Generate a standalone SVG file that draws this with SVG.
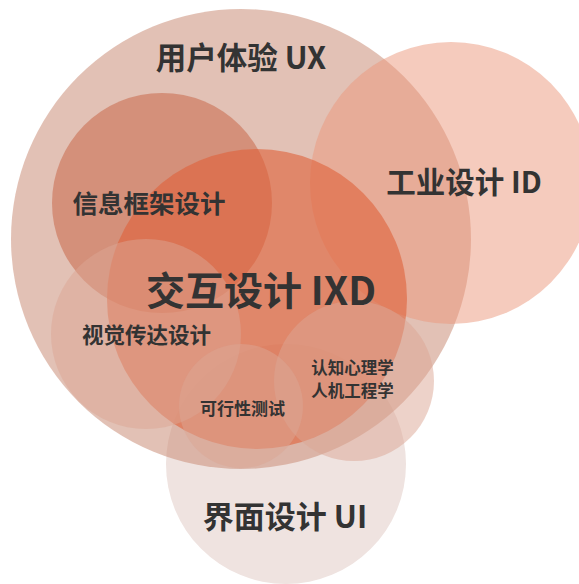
<svg xmlns="http://www.w3.org/2000/svg" width="579" height="584" viewBox="0 0 579 584">
<style>
.lbl{font-family:"Noto Sans CJK SC","Noto Sans",sans-serif;font-weight:bold;fill:#333333;text-anchor:middle}
.small{fill:#dca693;fill-opacity:0.5}
</style>
<rect width="579" height="584" fill="#ffffff"/>
<g id="ui"><circle cx="286" cy="464" r="120" fill="#efe3e0"/></g>
<g id="ux"><circle cx="241" cy="239" r="230" fill="#ca8e78" fill-opacity="0.55"/></g>
<g id="id"><circle cx="451" cy="183" r="141" fill="#eb977b" fill-opacity="0.5"/></g>
<g id="ia"><circle cx="162" cy="203" r="110" fill="#c65f3f" fill-opacity="0.5"/></g>
<g id="ixd"><circle cx="257" cy="299" r="150" fill="#df6038" fill-opacity="0.6"/></g>
<g id="visual"><circle class="small" cx="146" cy="334" r="95"/></g>
<g id="cognitive"><circle class="small" cx="354" cy="381" r="80"/></g>
<g id="feasibility"><circle class="small" cx="241" cy="406" r="62"/></g>
<g id="connectors"></g>
<g id="labels">
<text class="lbl" x="241" y="69" font-size="30.5">用户体验 UX</text>
<text class="lbl" x="464" y="193" font-size="29.5">工业设计 ID</text>
<text class="lbl" x="149" y="213" font-size="25.5">信息框架设计</text>
<text class="lbl" x="261" y="305" font-size="39">交互设计 IXD</text>
<text class="lbl" x="146.5" y="343" font-size="21.5">视觉传达设计</text>
<text class="lbl" x="352.5" y="374" font-size="16.5">认知心理学</text>
<text class="lbl" x="352.5" y="397" font-size="16.5">人机工程学</text>
<text class="lbl" x="242.5" y="415" font-size="17">可行性测试</text>
<text class="lbl" x="285" y="528" font-size="31">界面设计 UI</text>
</g>
</svg>
